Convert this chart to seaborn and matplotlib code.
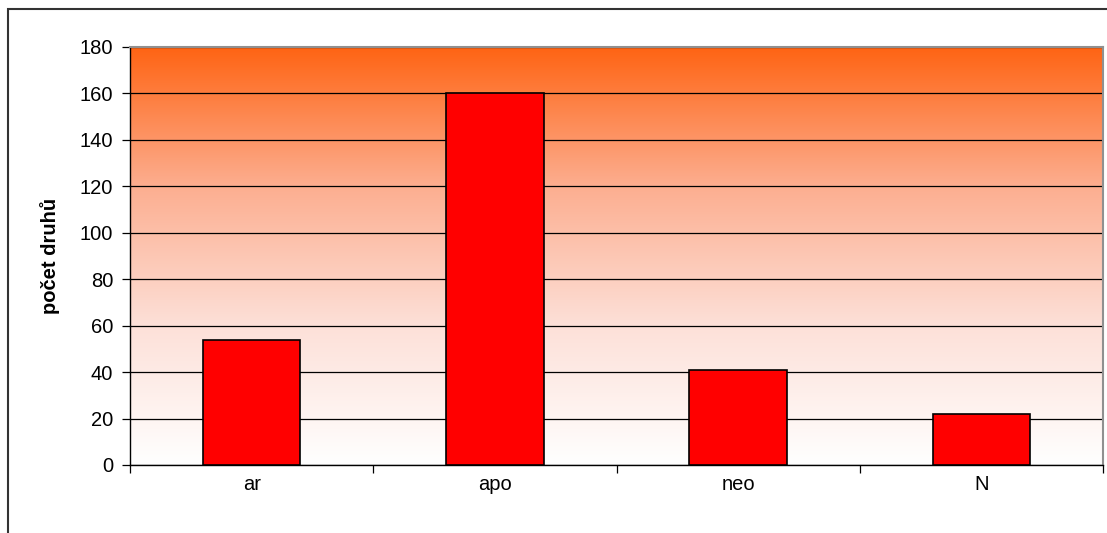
import numpy as np
import pandas as pd
import matplotlib
matplotlib.use("Agg")
import matplotlib.pyplot as plt
from matplotlib.colors import LinearSegmentedColormap
from matplotlib.patches import Rectangle
import seaborn as sns

categories = ["ar", "apo", "neo", "N"]
counts = [54, 160, 41, 22]
y_ticks = [0, 20, 40, 60, 80, 100, 120, 140, 160, 180]
y_label = "počet druhů"

sns.set_theme(style="white")
plt.rcParams["font.family"] = ["Liberation Sans", "DejaVu Sans"]
plt.rcParams["text.color"] = "black"
plt.rcParams["xtick.color"] = "black"
plt.rcParams["ytick.color"] = "black"
plt.rcParams["axes.labelcolor"] = "black"

df = pd.DataFrame({"kategorie": categories, "pocet": counts})

fig = plt.figure(figsize=(11.07, 5.33), dpi=100)
ax = fig.add_axes([130 / 1107, 1 - 465 / 533, 973 / 1107, 418 / 533])

# outer chart frame (runs past the right and bottom edges)
fig.patches.append(Rectangle((8 / 1107, -0.05), 1.1, 1 - 9 / 533 + 0.05,
                             transform=fig.transFigure, fill=False,
                             edgecolor="#333333", linewidth=1.5, zorder=0))

# vertical orange-to-white gradient behind the bars
grad_cmap = LinearSegmentedColormap.from_list(
    "bg", ["#FFFFFF", "#FDE0D8", "#FCAE90", "#FF6414"])
grad = np.linspace(0, 1, 256).reshape(-1, 1)
ax.imshow(grad, aspect="auto", cmap=grad_cmap, origin="lower",
          extent=[-0.5, len(categories) - 0.5, 0, 180], zorder=0)

sns.barplot(data=df, x="kategorie", y="pocet", ax=ax, color="#FF0000",
            width=0.4, edgecolor="black", linewidth=1.2, saturation=1,
            zorder=3)

ax.set_xlim(-0.5, len(categories) - 0.5)
ax.set_ylim(0, 180)
ax.set_yticks(y_ticks)
ax.set_yticklabels([str(v) for v in y_ticks], fontsize=14.5)
ax.yaxis.grid(True, color="black", linewidth=0.9)
for gl in ax.get_ygridlines():
    gl.set_zorder(1)

# category labels centered, tick marks at category boundaries
ax.set_xticks(range(len(categories)))
ax.set_xticklabels(categories, fontsize=14.5)
ax.tick_params(axis="x", length=0, pad=7)
ax.set_xticks(np.arange(-0.5, len(categories)), minor=True)
ax.tick_params(axis="x", which="minor", length=6, width=0.9, color="black",
               direction="out", bottom=True)
ax.tick_params(axis="y", length=6, width=0.9, color="black",
               direction="out", left=True, pad=6)

ax.set_xlabel("")
ax.set_ylabel(y_label, fontsize=14.5, fontweight="bold", labelpad=14)

for side in ["left", "bottom"]:
    ax.spines[side].set_color("black")
    ax.spines[side].set_linewidth(1.0)
for side in ["top", "right"]:
    ax.spines[side].set_color("#909090")
    ax.spines[side].set_linewidth(1.5)

fig.savefig("out.png", dpi=100)
